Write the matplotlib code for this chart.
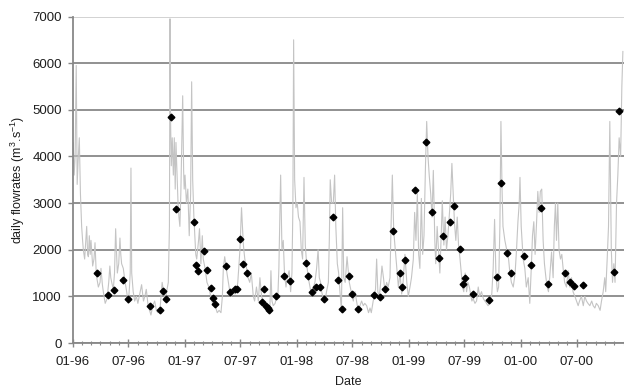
import numpy as np
import matplotlib
matplotlib.use('Agg')
import matplotlib.pyplot as plt
import matplotlib.dates as mdates

# daily flowrate trace, x = months since 01-96
flow_month = [
    0.0, 0.08, 0.18, 0.28, 0.4, 0.5, 0.6, 0.73, 0.85, 0.98, 1.08, 1.16, 1.3, 1.52, 1.62, 1.7,
    1.8, 1.9, 1.98, 2.16, 2.3, 2.41, 2.52, 2.6, 2.77, 2.95, 3.05, 3.2, 3.3, 3.5, 3.6, 3.7,
    3.88, 4.0, 4.1, 4.2, 4.37, 4.5, 4.62, 4.72, 4.8, 4.95, 5.08, 5.17, 5.26, 5.44, 5.6, 5.8,
    5.98, 6.1, 6.18, 6.26, 6.34, 6.5, 6.66, 6.84, 7.0, 7.2, 7.4, 7.6, 7.75, 7.9, 8.1, 8.25,
    8.4, 8.6, 8.8, 8.98, 9.15, 9.37, 9.6, 9.75, 9.9, 10.08, 10.26, 10.38, 10.44, 10.5, 10.58, 10.68,
    10.8, 10.9, 11.0, 11.08, 11.15, 11.3, 11.4, 11.5, 11.6, 11.7, 11.8, 11.9, 11.96, 12.05, 12.2, 12.35,
    12.5, 12.65, 12.76, 12.87, 13.0, 13.1, 13.2, 13.3, 13.5, 13.6, 13.75, 13.9, 14.0, 14.2, 14.4, 14.6,
    14.8, 15.0, 15.2, 15.35, 15.5, 15.7, 15.9, 16.05, 16.15, 16.3, 16.5, 16.7, 16.85, 17.0, 17.2, 17.4,
    17.55, 17.7, 17.93, 18.1, 18.3, 18.45, 18.6, 18.8, 18.98, 19.15, 19.36, 19.5, 19.7, 19.9, 20.07, 20.25,
    20.4, 20.6, 20.8, 20.96, 21.14, 21.25, 21.36, 21.5, 21.7, 21.86, 22.0, 22.1, 22.29, 22.43, 22.57, 22.7,
    22.86, 23.0, 23.2, 23.36, 23.5, 23.6, 23.68, 23.79, 23.93, 24.07, 24.2, 24.36, 24.5, 24.64, 24.79, 24.93,
    25.07, 25.25, 25.43, 25.57, 25.8, 25.96, 26.14, 26.3, 26.43, 26.57, 26.68, 26.86, 27.04, 27.2, 27.4, 27.5,
    27.6, 27.75, 27.93, 28.07, 28.2, 28.36, 28.5, 28.64, 28.8, 28.93, 29.05, 29.2, 29.4, 29.64, 29.9, 30.07,
    30.25, 30.5, 30.7, 30.96, 31.14, 31.3, 31.5, 31.7, 31.86, 32.0, 32.2, 32.45, 32.57, 32.7, 32.86, 33.0,
    33.14, 33.3, 33.46, 33.64, 33.8, 34.0, 34.1, 34.25, 34.4, 34.57, 34.7, 34.9, 35.07, 35.25, 35.4, 35.6,
    35.8, 35.96, 36.14, 36.3, 36.5, 36.64, 36.78, 36.93, 37.07, 37.2, 37.36, 37.5, 37.64, 37.8, 37.93, 38.07,
    38.2, 38.36, 38.5, 38.64, 38.8, 38.9, 39.05, 39.2, 39.34, 39.5, 39.6, 39.77, 39.9, 40.05, 40.2, 40.34,
    40.5, 40.63, 40.77, 40.9, 41.05, 41.2, 41.34, 41.5, 41.63, 41.77, 41.9, 42.05, 42.2, 42.34, 42.5, 42.63,
    42.77, 42.9, 43.1, 43.27, 43.45, 43.6, 43.8, 44.0, 44.16, 44.34, 44.5, 44.7, 44.9, 45.05, 45.2, 45.34,
    45.5, 45.63, 45.77, 45.88, 46.0, 46.1, 46.3, 46.5, 46.7, 46.84, 47.0, 47.2, 47.4, 47.55, 47.7, 47.84,
    47.92, 48.05, 48.26, 48.44, 48.6, 48.8, 48.97, 49.15, 49.26, 49.4, 49.54, 49.7, 49.83, 49.97, 50.1, 50.25,
    50.4, 50.54, 50.7, 50.83, 50.97, 51.1, 51.3, 51.47, 51.6, 51.72, 51.83, 51.97, 52.1, 52.26, 52.4, 52.54,
    52.7, 52.9, 53.08, 53.26, 53.44, 53.6, 53.8, 53.97, 54.15, 54.3, 54.5, 54.7, 54.86, 55.04, 55.2, 55.4,
    55.6, 55.76, 55.94, 56.1, 56.3, 56.5, 56.65, 56.83, 57.0, 57.1, 57.26, 57.4, 57.54, 57.7, 57.83, 57.97,
    58.1, 58.26, 58.4, 58.54, 58.7, 58.83, 58.94,
]
flow_value = [
    3800, 4300, 3600, 4000, 5950, 3400, 3900, 4400, 3200, 2500, 2200, 2000, 1800, 2500, 1900, 1850,
    2300, 1900, 2200, 1650, 1800, 2150, 1600, 1400, 1200, 1300, 1600, 1250, 1100, 850, 900, 950,
    1300, 1650, 1400, 1300, 1150, 1500, 2450, 1900, 1500, 1700, 2250, 1900, 1700, 1600, 1350, 1100,
    850, 1200, 1500, 3750, 1500, 1100, 900, 1000, 850, 1050, 1250, 900, 1000, 1150, 800, 700,
    600, 800, 900, 700, 650, 720, 1300, 1100, 900, 1100, 1300, 2500, 6950, 4800, 3800, 4400,
    3600, 4400, 3300, 4300, 3900, 3000, 2700, 2500, 3200, 4200, 5300, 3700, 3300, 3600, 3000, 3300,
    2300, 3200, 5600, 3500, 2700, 2300, 1900, 1800, 2200, 2450, 1700, 2300, 1800, 1600, 1300, 1200,
    1000, 850, 800, 750, 650, 700, 650, 1000, 1600, 1850, 1550, 1300, 1100, 1000, 1100, 1050,
    1100, 1300, 2000, 2900, 2100, 1800, 1650, 1400, 1300, 1500, 1000, 900, 1200, 900, 1400, 1000,
    900, 800, 700, 650, 750, 1550, 900, 800, 850, 1000, 1050, 1600, 3600, 2000, 2200, 1500,
    1200, 1400, 1550, 1100, 1500, 2900, 6500, 3500, 2900, 3000, 2700, 2600, 2000, 1800, 3550, 2100,
    1700, 1400, 1200, 1050, 1200, 1300, 1600, 2000, 1400, 1300, 1100, 950, 900, 1100, 1300, 2200,
    3500, 3000, 3000, 3600, 2500, 1700, 1500, 1100, 700, 2900, 1400, 1300, 1850, 1300, 1050, 900,
    1100, 800, 750, 900, 800, 850, 800, 650, 750, 650, 900, 1150, 1800, 1100, 1000, 1300,
    1650, 1400, 1100, 1300, 1200, 1400, 2400, 3600, 2400, 2000, 1700, 1200, 1500, 1050, 1300, 1900,
    1300, 1000, 1200, 1400, 1800, 2800, 2200, 3200, 1900, 1600, 3100, 1900, 2300, 3800, 4750, 4000,
    3600, 3200, 2700, 3700, 2200, 1700, 2500, 2000, 1500, 2400, 3050, 2100, 2700, 2000, 2300, 2700,
    3200, 3850, 3200, 2600, 2200, 2700, 2100, 1800, 1500, 1200, 1100, 1500, 1100, 1300, 1200, 1050,
    900, 950, 850, 900, 1200, 1000, 1100, 950, 900, 850, 800, 850, 1050, 1600, 2650, 1500,
    1100, 1200, 2500, 4750, 3300, 2500, 2200, 2000, 1800, 1500, 1300, 1200, 1500, 2000, 2600, 3000,
    3550, 2500, 1800, 1600, 1200, 1400, 850, 1700, 2300, 2600, 1900, 2600, 3250, 2800, 3250, 3300,
    2200, 1700, 1400, 1200, 1100, 1400, 1950, 1400, 2500, 3000, 2200, 3000, 2000, 1800, 1900, 1600,
    1300, 1200, 1550, 1200, 1400, 1100, 1000, 900, 800, 900, 1000, 800, 1000, 900, 850, 800,
    900, 800, 750, 850, 800, 700, 900, 1100, 1400, 1100, 1800, 2500, 4750, 2000, 1300, 1700,
    1300, 3000, 3600, 4400, 4000, 5500, 6250,
]

# sampled flowrates (black diamonds), x = months since 01-96
sample_month = [
    2.59, 3.76, 4.47, 5.40, 5.90, 8.32, 9.33, 9.70, 10.02, 10.50, 11.07, 12.96, 13.21, 13.42, 14.05, 14.35,
    14.81, 15.04, 15.29, 16.42, 16.92, 17.38, 17.59, 17.99, 18.29, 18.74, 20.34, 20.56, 20.77, 20.94, 21.05, 21.76,
    22.70, 23.34, 25.01, 25.22, 25.65, 26.07, 26.50, 26.93, 27.89, 28.43, 28.82, 29.59, 29.95, 30.57, 32.30, 32.92,
    33.51, 34.31, 35.05, 35.27, 35.56, 36.66, 37.88, 38.52, 39.22, 39.63, 40.40, 40.82, 41.48, 41.84, 41.98, 42.89,
    44.55, 45.42, 45.90, 46.57, 47.01, 48.40, 49.11, 50.21, 50.91, 52.75, 53.26, 53.69, 54.63, 57.94, 58.56,
]
sample_value = [
    1507, 1029, 1136, 1357, 937, 787, 707, 1118, 937, 4839, 2873, 2585, 1672, 1533, 1970, 1562,
    1178, 965, 846, 1651, 1093, 1165, 1165, 2219, 1690, 1504, 886, 1151, 793, 744, 714, 1014,
    1430, 1336, 1708, 1443, 1093, 1207, 1200, 951, 2695, 1351, 729, 1433, 1051, 733, 1020, 990,
    1168, 2394, 1504, 1200, 1784, 3270, 4320, 2802, 1818, 2287, 2594, 2930, 2022, 1265, 1401, 1058,
    915, 1415, 3437, 1920, 1500, 1865, 1672, 2884, 1265, 1500, 1301, 1212, 1240, 1529, 4965,
]


def to_dates(months):
    hours = np.round(np.asarray(months) * 30.4375 * 24).astype(int)
    return np.datetime64('1996-01-01T00') + hours.astype('timedelta64[h]')


plt.rcParams['font.family'] = ['Liberation Sans', 'DejaVu Sans']
plt.rcParams['mathtext.default'] = 'regular'

text_col = '#1e1e1e'
fig = plt.figure(figsize=(6.24, 3.89), dpi=100)
ax = fig.add_axes([72.5 / 624, 1 - 343 / 389, 551 / 624, 326.5 / 389])

ax.plot(to_dates(flow_month), flow_value, color='#c4c4c4', linewidth=0.8, zorder=2)
ax.plot(to_dates(sample_month), sample_value, 'D', color='black', markersize=3.4,
        linestyle='none', zorder=3)

ax.set_xlim(np.datetime64('1996-01-01'), np.datetime64('2000-12-01'))
ax.set_ylim(0, 7000)
ax.set_yticks(range(0, 7001, 1000))

ax.xaxis.set_major_locator(mdates.MonthLocator(bymonth=[1, 7]))
ax.xaxis.set_major_formatter(mdates.DateFormatter('%m-%y'))
ax.xaxis.set_minor_locator(mdates.MonthLocator())

ax.yaxis.grid(True, color='#888888', linewidth=1.3, zorder=0)
ax.set_axisbelow(True)
ax.get_ygridlines()[-1].set_color('#cfcfcf')

for side in ['top', 'right']:
    ax.spines[side].set_visible(False)
for side in ['left', 'bottom']:
    ax.spines[side].set_color('#888888')
    ax.spines[side].set_linewidth(1.3)

ax.tick_params(axis='x', which='major', direction='inout', length=5.5, width=1.0,
               color='#888888', pad=6.5, labelsize=9.5, labelcolor=text_col)
ax.tick_params(axis='x', which='minor', direction='inout', length=2.2, width=0.8,
               color='#888888')
ax.tick_params(axis='y', direction='out', length=3.6, width=1.0, color='#888888',
               pad=4.0, labelsize=9.5, labelcolor=text_col)

ax.set_ylabel(r'daily flowrates (m$^3$.s$^{-1}$)', fontsize=9, color=text_col)
ax.yaxis.set_label_coords(-0.083, 0.5)
ax.set_xlabel('Date', fontsize=9, color=text_col)
ax.xaxis.set_label_coords(0.5, -0.101)

fig.savefig('out.png', dpi=100)
